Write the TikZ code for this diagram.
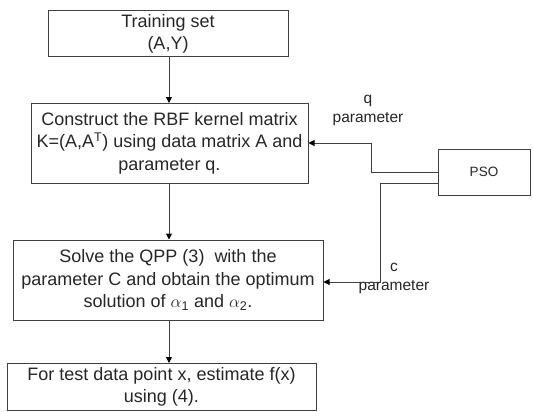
\documentclass[tikz,border=0pt]{standalone}
\usepackage{fontspec}
\setmainfont{Liberation Sans}
\usetikzlibrary{arrows.meta}
\begin{document}
\begin{tikzpicture}[x=1pt,y=-1pt,
  box/.style={draw=black!75, line width=1pt, rectangle, inner sep=0pt, align=center,
    text=black!85, font=\fontsize{18}{22.5}\selectfont},
  lbl/.style={align=center, inner sep=0pt, text=black!85, font=\fontsize{15.5}{19}\selectfont},
  arr/.style={draw=black!75, line width=1pt, -{Triangle[length=6pt,width=6pt,color=black]}}
]
\useasboundingbox (0,0) rectangle (533,412);
\node[box, minimum width=240pt, minimum height=46pt] (train) at (168,34) {Training set\\(A,Y)};
\node[box, minimum width=277pt, minimum height=80pt] (construct) at (169.5,143)
  {Construct the RBF kernel matrix\\K=(A,A\textsuperscript{T}) using data matrix A and\\parameter q.};
\node[box, minimum width=310pt, minimum height=80pt] (solve) at (168,280)
  {Solve the QPP (3)\ \ with the\\parameter C and obtain the optimum\\solution of $\alpha$\textsubscript{1} and $\alpha$\textsubscript{2}.};
\node[box, minimum width=309pt, minimum height=47pt] (test) at (161.5,387)
  {For test data point x, estimate f(x)\\using (4).};
\node[box, minimum width=92pt, minimum height=46pt, font=\fontsize{13.5}{16}\selectfont] (pso) at (484,172) {PSO};
\node[lbl] (qlbl) at (368,110) {q\\parameter};
\node[lbl] (clbl) at (394,278) {c\\parameter};
\draw[arr] (169,57) coordinate (t1) -- (169,103) coordinate (t2);
\draw[arr] (construct.south -| t1) -- (solve.north -| t1);
\draw[arr] (solve.south -| t1) -- (test.north -| t1);
\draw[arr] (pso.west) -- ++(-66,0) |- (construct.east);
\draw[arr] ([yshift=-11pt]pso.west) -- ++(-57,0) |- ([yshift=-2pt]solve.east);
\end{tikzpicture}
\end{document}
